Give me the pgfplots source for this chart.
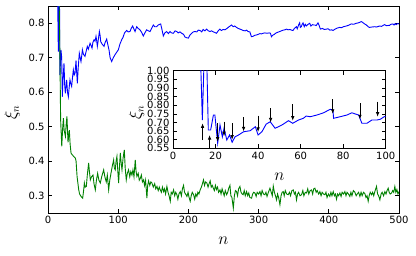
\documentclass[border=0pt]{standalone}
\usepackage{pgfplots}
\pgfplotsset{compat=1.18}
\usepackage{pgfplotstable}
\usepackage{fontspec}
\setmainfont{DejaVu Sans}
\usetikzlibrary{arrows.meta}

\definecolor{mplblue}{rgb}{0,0,1}
\definecolor{mplgreen}{rgb}{0,0.5,0}

% main series
\pgfplotstableread{
n xi
13 1.0
14.7 0.718
16 1.0
17 0.65
18.5 0.723
19.5 0.70
20.4 0.587
21.5 0.64
22.8 0.684
23.8 0.62
24.7 0.597
26.6 0.636
27.8 0.60
29 0.587
30 0.61
31.3 0.636
32.5 0.625
33.7 0.617
35 0.645
36.1 0.665
37.3 0.65
38.5 0.655
39.9 0.692
40.8 0.66
41.8 0.626
43 0.67
44.6 0.713
45.8 0.70
47 0.689
48 0.705
49 0.723
50.5 0.71
52.7 0.704
54.5 0.72
56 0.733
57.5 0.725
59.9 0.742
61.5 0.735
62.7 0.728
64 0.745
65.6 0.752
67 0.748
68.4 0.762
69.3 0.75
70.3 0.733
71.5 0.75
73.2 0.776
74.2 0.765
75.1 0.747
77 0.74
79.8 0.733
81.5 0.745
83.6 0.754
85 0.74
86.9 0.723
88.5 0.70
90.7 0.689
93 0.70
95.5 0.709
97.5 0.715
100.2 0.723
102.5 0.74
105 0.752
107 0.76
109 0.772
112 0.779
114 0.775
116.8 0.776
118.5 0.785
120.6 0.792
122 0.785
124 0.776
126.3 0.79
128.5 0.785
131 0.781
133 0.775
135.8 0.763
138 0.772
140.5 0.781
143 0.778
145.3 0.776
147.5 0.785
150 0.795
152 0.79
154.8 0.79
157 0.795
160.5 0.798
162 0.785
164.3 0.763
166.5 0.772
169 0.776
171.5 0.77
173.8 0.776
176 0.772
178.6 0.771
181 0.778
183.3 0.776
185.5 0.772
188 0.775
190.4 0.771
193 0.768
195.2 0.76
197.5 0.758
199.9 0.757
202 0.765
204.7 0.771
207 0.775
209.4 0.776
212 0.775
214 0.78
216.6 0.779
219 0.775
221 0.782
223.5 0.778
226 0.783
228.5 0.778
230.7 0.776
233 0.778
235.5 0.775
238 0.773
240 0.771
242.5 0.778
244.8 0.783
247 0.779
249.5 0.782
252 0.781
255 0.785
258 0.79
261.4 0.795
264 0.79
266 0.792
268.5 0.788
271 0.785
273.5 0.783
276 0.781
278 0.779
281 0.778
283 0.78
285 0.776
287.5 0.775
289.8 0.761
292 0.762
294.5 0.765
297 0.766
299.5 0.768
302 0.77
304 0.769
306.4 0.771
309 0.772
312 0.771
315 0.772
316.9 0.771
318.3 0.761
320 0.765
322.5 0.768
325 0.772
327.5 0.774
330 0.776
332.5 0.778
335 0.78
337.5 0.781
339.6 0.783
342 0.781
344.5 0.782
347 0.78
349 0.779
351 0.785
353.8 0.79
355 0.784
357 0.795
358.5 0.801
359.5 0.788
360.9 0.79
362 0.797
363.3 0.801
365 0.79
366.5 0.797
368 0.792
370 0.796
372.8 0.80
374.5 0.792
376.5 0.796
378.5 0.795
380 0.795
382 0.793
384.6 0.801
386 0.795
388 0.783
391 0.785
393.5 0.782
396.6 0.783
399 0.784
401.5 0.78
404 0.781
406 0.779
409 0.783
412 0.786
415.6 0.788
418 0.787
421 0.79
425 0.792
428 0.794
432 0.798
435.5 0.797
439.2 0.80
442 0.801
444.5 0.803
446.3 0.805
448.5 0.802
451 0.798
453.5 0.795
456 0.79
458 0.788
461 0.789
465.3 0.79
468 0.789
472.4 0.792
475 0.791
479.5 0.796
482 0.793
486.6 0.794
488.5 0.797
491.4 0.798
493 0.795
494.5 0.799
496 0.796
498 0.799
500 0.798
}\bluedata

\pgfplotstableread{
n xi
15 1.0
17 0.70
18 0.52
19.6 0.443
21 0.50
22 0.525
23 0.49
24.8 0.472
26 0.51
27 0.53
28.5 0.455
30.4 0.49
31.5 0.45
32.8 0.424
34 0.42
36.6 0.414
39 0.409
40 0.40
41.4 0.356
43.8 0.317
45 0.305
47.1 0.298
49.4 0.293
51 0.32
51.8 0.337
53 0.325
54.6 0.327
56 0.36
57.9 0.395
59 0.37
60.3 0.346
62 0.355
64.1 0.36
65.5 0.335
67.4 0.317
69 0.345
70.7 0.365
72.5 0.345
74.5 0.337
76.5 0.355
79.3 0.375
81 0.355
83 0.34
84.5 0.36
86.4 0.317
88 0.345
89.7 0.365
91.5 0.385
93.5 0.404
94.5 0.38
95.8 0.375
97 0.40
98.2 0.414
99.5 0.37
100.6 0.337
102 0.39
103 0.424
104 0.40
105.4 0.375
107 0.41
108.7 0.433
110 0.38
111.5 0.346
113 0.365
114.8 0.375
116.5 0.355
118 0.37
119.6 0.36
121 0.375
122.5 0.355
124.3 0.404
125.5 0.37
126.7 0.356
128.5 0.365
130 0.345
131.4 0.35
133 0.36
134.5 0.34
136.2 0.346
137.5 0.33
139 0.345
140.9 0.293
142 0.33
143.3 0.343
145 0.33
146.5 0.34
148 0.337
150 0.325
152 0.335
153.5 0.32
155.2 0.327
157 0.315
158.5 0.325
159.9 0.317
161.5 0.31
163 0.325
164.7 0.312
166 0.32
167.5 0.305
169.4 0.327
171 0.31
172.5 0.30
174.2 0.284
175.5 0.31
177 0.305
178.9 0.317
180.5 0.30
182 0.31
183.6 0.303
185 0.29
186.5 0.305
188.4 0.312
190 0.30
191.5 0.32
193.1 0.33
194.5 0.31
196 0.305
197.9 0.298
199.5 0.31
201 0.295
202.6 0.284
204 0.30
205.5 0.31
207.4 0.303
209 0.29
210.5 0.305
212.1 0.298
213.5 0.31
215 0.305
216.8 0.317
218.5 0.325
220 0.335
221.5 0.346
223 0.33
224.5 0.34
226.3 0.337
228 0.325
229.5 0.335
231 0.343
232.5 0.325
234 0.33
235.5 0.322
237 0.315
238.5 0.33
240 0.318
241.5 0.325
243 0.31
245 0.317
246.5 0.305
248 0.32
249.5 0.31
251 0.30
252.5 0.315
254.5 0.303
256 0.31
257.5 0.322
259.2 0.33
260.5 0.30
262 0.295
264 0.264
265.5 0.30
267 0.315
268.6 0.312
270 0.30
271.5 0.32
273.4 0.327
275 0.31
276.5 0.305
278 0.303
279.5 0.315
281 0.30
282.9 0.312
284.5 0.30
286 0.308
287.5 0.295
290 0.293
291.5 0.305
293 0.31
294.8 0.308
296.5 0.298
298 0.31
300 0.305
301.9 0.312
303.5 0.30
305 0.315
307 0.305
309 0.303
310.5 0.31
312 0.298
314 0.31
316.2 0.322
318 0.31
319.5 0.30
320.9 0.328
322.5 0.31
324 0.30
325.6 0.288
327 0.305
328.5 0.295
330.4 0.274
332 0.30
333.5 0.31
335.1 0.312
336.5 0.30
338 0.315
340 0.305
342.2 0.303
344 0.31
345.5 0.30
347.5 0.315
349.4 0.317
351 0.305
352.5 0.31
354 0.288
355.5 0.305
357 0.31
359 0.30
361.2 0.303
363 0.315
364.5 0.30
366.5 0.31
368.3 0.308
370 0.32
371.5 0.305
373.5 0.315
375.4 0.317
377 0.305
378.5 0.32
380.2 0.322
382 0.31
383.5 0.315
385.5 0.305
387.3 0.312
389 0.30
390.5 0.31
392.5 0.305
394.4 0.303
396 0.31
397.5 0.295
399.5 0.305
401.5 0.298
403 0.31
404.5 0.30
406.3 0.312
408 0.30
409.5 0.305
411 0.29
412.5 0.305
414 0.30
415.8 0.308
417.5 0.298
419 0.31
421 0.305
422.9 0.312
424.5 0.30
426 0.31
428 0.305
430 0.298
431.5 0.31
433 0.30
435 0.315
437.2 0.31
439 0.30
440.5 0.305
442.5 0.31
444.3 0.298
446 0.31
447.5 0.30
449.5 0.31
451.4 0.306
453 0.295
454.5 0.30
456.1 0.284
457.5 0.30
459 0.31
460.9 0.303
462.5 0.31
464 0.30
466 0.315
468 0.327
469.5 0.305
471 0.30
472.8 0.288
474.5 0.305
476 0.31
478 0.30
479.9 0.312
481.5 0.305
483 0.315
484.6 0.322
486 0.31
487.5 0.305
489.4 0.308
491 0.315
492.5 0.31
494.1 0.327
495.5 0.31
497 0.318
498.5 0.305
500 0.312
}\greendata

% inset: first 100 steps
\pgfplotstableread{
n xi
12 1.1
13 1.05
13.8 0.714
14.7 1.1
15.8 1.1
16.6 0.656
17.7 0.656
19 0.743
19.7 0.743
21 0.579
22.1 0.685
23.2 0.617
24 0.666
25.3 0.598
26.6 0.627
27.8 0.585
29.2 0.617
30.8 0.627
33.2 0.646
36.3 0.652
38.7 0.675
40 0.627
41.8 0.646
43.8 0.69
45.7 0.704
48 0.666
51.2 0.685
54.3 0.71
56.3 0.695
59 0.714
61.3 0.724
62.6 0.737
64.5 0.733
67.7 0.743
70.8 0.756
73.9 0.776
75.2 0.772
75.5 0.724
78.6 0.733
81.8 0.743
84.1 0.756
85.7 0.749
87.3 0.743
88.8 0.695
91.2 0.695
93.5 0.714
95.8 0.714
97.4 0.718
99.3 0.733
100 0.735
}\insetdata

\begin{document}
\begin{tikzpicture}
\pgfplotsset{
  every axis/.append style={
    scale only axis,
    axis line style={line width=0.8pt},
    major tick length=4pt,
    every tick/.style={black, line width=0.6pt},
    tick label style={font=\fontsize{10}{11}\selectfont},
    label style={font=\fontsize{16}{17}\selectfont},
    /pgf/number format/assume math mode=true,
  },
}
\begin{axis}[
  name=main,
  width=351pt, height=207pt,
  xmin=0, xmax=500, ymin=0.25, ymax=0.85,
  xtick={0,100,...,500},
  ytick={0.3,0.4,0.5,0.6,0.7,0.8},
  yticklabel style={/pgf/number format/.cd, fixed, fixed zerofill, precision=1},
  xlabel={$n$}, ylabel={$\xi_n$},
  xlabel style={yshift=-6pt},
  ylabel style={yshift=2pt, xshift=-3pt},
]
\addplot[mplblue, line width=0.9pt] table[x=n, y=xi] {\bluedata};
\addplot[mplgreen, line width=0.9pt] table[x=n, y=xi] {\greendata};
\end{axis}

\begin{axis}[
  at={(125pt,64.7pt)}, anchor=south west,
  width=212.7pt, height=77.6pt,
  axis background/.style={fill=white},
  xmin=0, xmax=100, ymin=0.55, ymax=1.0,
  xtick={0,20,40,60,80,100},
  ytick={0.55,0.6,0.65,0.7,0.75,0.8,0.85,0.9,0.95,1.0},
  yticklabel style={/pgf/number format/.cd, fixed, fixed zerofill, precision=2},
  xlabel={$n$}, ylabel={$\xi_n$},
  xlabel style={yshift=-7pt},
  ylabel style={yshift=-4pt, xshift=-3pt},
]
\addplot[mplblue, line width=0.9pt] table[x=n, y=xi] {\insetdata};
% arrows pointing up
\draw[-{Latex[length=4.5pt,width=3.5pt]}, line width=0.7pt] (axis cs:13.9,0.598) -- (axis cs:13.9,0.695);
\draw[-{Latex[length=4.5pt,width=3.5pt]}, line width=0.7pt] (axis cs:17.2,0.55) -- (axis cs:17.2,0.627);
% arrows pointing down
\foreach \xx/\ya/\yb in {21/0.695/0.588, 24/0.705/0.62, 27.8/0.695/0.60, 33.2/0.73/0.648,
    40/0.74/0.645, 45.9/0.782/0.70, 56.3/0.805/0.71, 75.1/0.834/0.75,
    87.9/0.811/0.718, 96.2/0.82/0.733}{
  \edef\temp{\noexpand\draw[-{Latex[length=4.5pt,width=3.5pt]}, line width=0.7pt]
    (axis cs:\xx,\ya) -- (axis cs:\xx,\yb);}
  \temp
}
\end{axis}
\path (main.south west) ++(-48pt,-43pt) rectangle ++(416pt,256pt);
\end{tikzpicture}
\end{document}
